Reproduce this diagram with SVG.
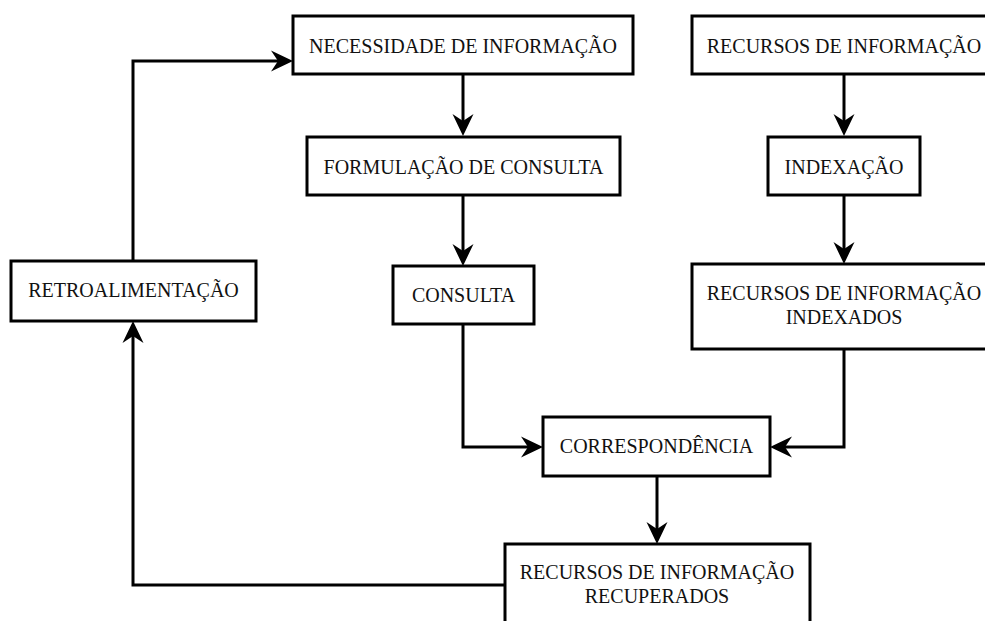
<svg xmlns="http://www.w3.org/2000/svg" width="985" height="621" viewBox="0 0 985 621">
  <defs>
    <style>
      .box { fill: #ffffff; stroke: #000000; stroke-width: 3; }
      .lbl { font-family: "Liberation Serif", "Times New Roman", serif; font-size: 20px; fill: #111111; text-anchor: middle; }
      .edge { fill: none; stroke: #000000; stroke-width: 3; stroke-linejoin: miter; }
    </style>
    <!-- concave filled arrowhead; path ends at the notch, tip lies 15px ahead -->
    <marker id="arrow" markerUnits="userSpaceOnUse" markerWidth="30" markerHeight="30" viewBox="-10 -15 30 30" refX="0" refY="0" orient="auto" overflow="visible">
      <path d="M15,0 L-7,-10.5 L0,0 L-7,10.5 Z" fill="#000000"/>
    </marker>
  </defs>
  <rect width="985" height="621" fill="#ffffff"/>

  <g id="connectors">
    <!-- feedback loop -->
    <path class="edge" d="M505,585 H133 V336" marker-end="url(#arrow)"/>
    <path class="edge" d="M133,261 V61 H278" marker-end="url(#arrow)"/>
    <!-- query branch -->
    <path class="edge" d="M463,74 V121" marker-end="url(#arrow)"/>
    <path class="edge" d="M463,195 V251" marker-end="url(#arrow)"/>
    <path class="edge" d="M463,324 V447 H528" marker-end="url(#arrow)"/>
    <!-- resources branch -->
    <path class="edge" d="M844,74 V121" marker-end="url(#arrow)"/>
    <path class="edge" d="M844,195 V249" marker-end="url(#arrow)"/>
    <path class="edge" d="M844,349 V447 H785" marker-end="url(#arrow)"/>
    <!-- matching to results -->
    <path class="edge" d="M657,476 V529" marker-end="url(#arrow)"/>
  </g>

  <g id="necessidade">
    <rect class="box" x="293" y="16" width="340" height="58"/>
    <text class="lbl" x="463" y="52.5">NECESSIDADE DE INFORMAÇÃO</text>
  </g>
  <g id="formulacao">
    <rect class="box" x="307" y="137" width="313" height="58"/>
    <text class="lbl" x="463.5" y="173.5">FORMULAÇÃO DE CONSULTA</text>
  </g>
  <g id="consulta">
    <rect class="box" x="393" y="266" width="141" height="58"/>
    <text class="lbl" x="463.5" y="302">CONSULTA</text>
  </g>
  <g id="recursos">
    <rect class="box" x="692" y="16" width="310" height="58"/>
    <text class="lbl" x="844" y="52.5">RECURSOS DE INFORMAÇÃO</text>
  </g>
  <g id="indexacao">
    <rect class="box" x="768" y="137" width="152" height="58"/>
    <text class="lbl" x="844" y="173.5">INDEXAÇÃO</text>
  </g>
  <g id="indexados">
    <rect class="box" x="692" y="264" width="310" height="85"/>
    <text class="lbl" x="844" y="300">RECURSOS DE INFORMAÇÃO</text>
    <text class="lbl" x="844" y="324">INDEXADOS</text>
  </g>
  <g id="retroalimentacao">
    <rect class="box" x="11" y="261" width="245" height="60"/>
    <text class="lbl" x="133.5" y="297">RETROALIMENTAÇÃO</text>
  </g>
  <g id="correspondencia">
    <rect class="box" x="543" y="417" width="227" height="59"/>
    <text class="lbl" x="656.5" y="453">CORRESPONDÊNCIA</text>
  </g>
  <g id="recuperados">
    <rect class="box" x="505" y="544" width="305" height="110"/>
    <text class="lbl" x="657" y="579">RECURSOS DE INFORMAÇÃO</text>
    <text class="lbl" x="657" y="603">RECUPERADOS</text>
  </g>
</svg>
